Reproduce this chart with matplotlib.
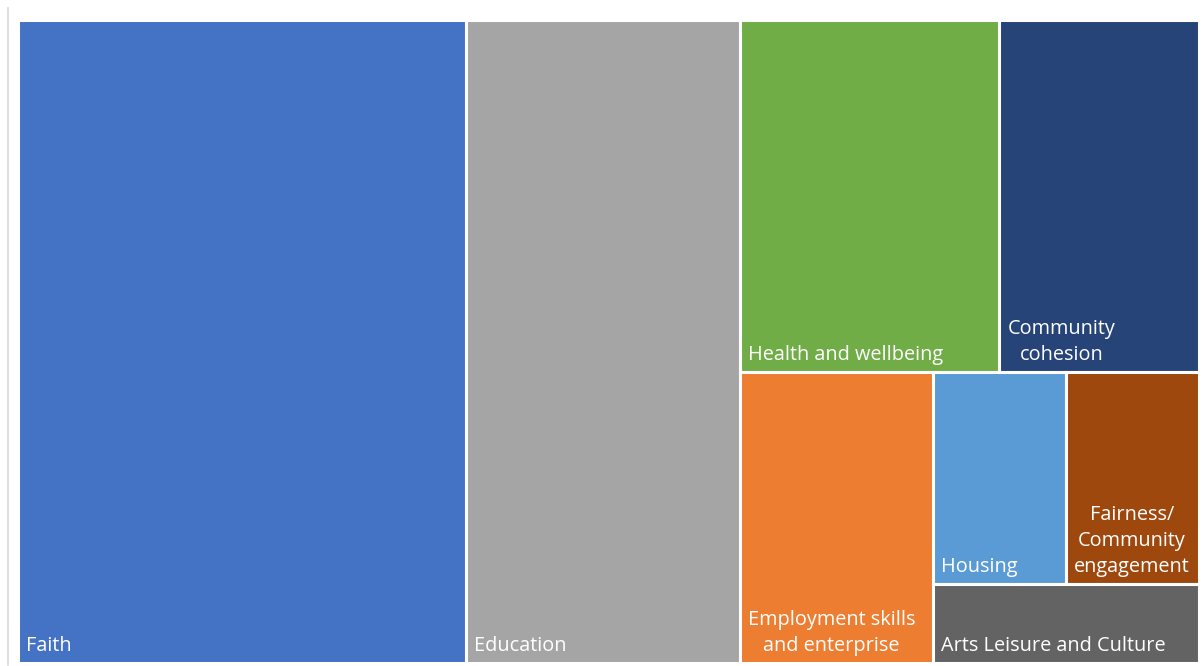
import matplotlib
matplotlib.use("Agg")
import matplotlib.pyplot as plt
from matplotlib.patches import Rectangle
from matplotlib.lines import Line2D

# treemap data (counts read from block areas)
labels = ["Faith", "Education", "Health and wellbeing", "Community\ncohesion",
          "Employment skills\nand enterprise", "Housing",
          "Fairness/\nCommunity\nengagement", "Arts Leisure and Culture"]
values = [41, 25, 13, 10, 8, 4, 4, 3]
colours = ["#4472C4", "#A5A5A5", "#70AD47", "#264478",
           "#ED7D31", "#5B9BD5", "#9E480E", "#636363"]

# nesting of the Excel layout: 'h' = side by side, 'v' = stacked top to bottom
tree = ("h", [0, 1, ("v", [("h", [2, 3]),
                           ("h", [4, ("v", [("h", [5, 6]), 7])])])])

W, H = 1181, 643


def total(node):
    if isinstance(node, int):
        return values[node]
    return sum(total(c) for c in node[1])


def layout(node, x, y, w, h, out):
    # y is the top edge, going down
    if isinstance(node, int):
        out[node] = (x, y, w, h)
        return
    kind, kids = node
    s = total(node)
    pos = 0.0
    for k in kids:
        f = total(k) / s
        if kind == "h":
            layout(k, x + pos * w, y, f * w, h, out)
        else:
            layout(k, x, y + pos * h, w, f * h, out)
        pos += f


rects = {}
layout(tree, 0, 0, W, H, rects)

fig = plt.figure(figsize=(12.03, 6.66), dpi=100)
ax = fig.add_axes([18 / 1203, 3 / 666, W / 1203, H / 666])
ax.set_xlim(0, W)
ax.set_ylim(H, 0)
ax.axis("off")

for i, (x, y, w, h) in rects.items():
    ax.add_patch(Rectangle((x, y), w, h, facecolor=colours[i],
                           edgecolor="white", linewidth=2.2))
    ax.text(x + 8, y + h - 7, labels[i], color="white", fontsize=14.3,
            family="Open Sans", ha="left", va="bottom",
            multialignment="center", linespacing=1.4)

fig.add_artist(Line2D([7.5 / 1203, 7.5 / 1203], [1 / 666, 658 / 666],
                      color="#D9D9D9", linewidth=1.2))

plt.savefig("out.png", dpi=100)
